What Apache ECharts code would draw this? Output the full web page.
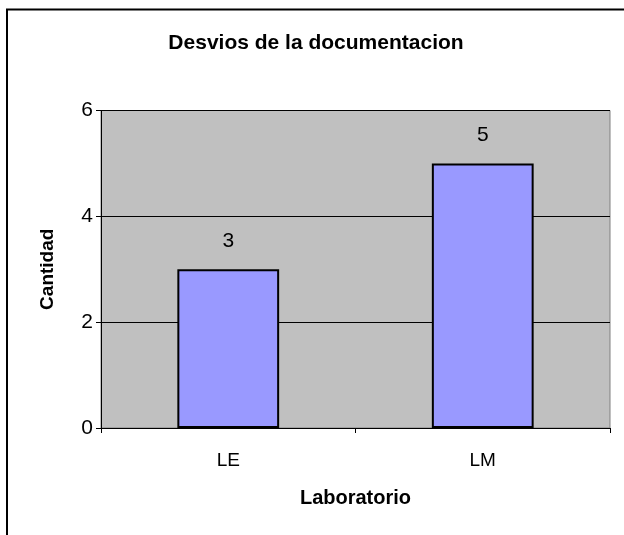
<!DOCTYPE html>
<html>
<head>
<meta charset="utf-8">
<script src="https://cdn.jsdelivr.net/npm/echarts@6/dist/echarts.min.js"></script>
<style>
html,body{margin:0;padding:0;background:#fff;}
#c{width:624px;height:535px;}
</style>
</head>
<body>
<div id="c"></div>
<script>
const titleText = "Desvios de la documentacion";
const categories = ["LE", "LM"];
const values = [3, 5];
const yTicks = [0, 2, 4, 6];
const xName = "Laboratorio";
const yName = "Cantidad";

const chart = echarts.init(document.getElementById('c'), null, {renderer: 'canvas'});
const F = '"Liberation Sans", Arial, sans-serif';
chart.setOption({
  backgroundColor: '#ffffff',
  animation: false,
  title: {
    text: titleText,
    left: 311, top: 28, textAlign: 'center',
    textStyle: {fontFamily: F, fontSize: 21, fontWeight: 'bold', color: '#000'}
  },
  graphic: [{
    type: 'rect', silent: true,
    shape: {x: 7, y: 9.5, width: 700, height: 600},
    style: {fill: 'none', stroke: '#000', lineWidth: 2}
  }],
  grid: {left: 101, top: 110.5, right: 14, bottom: 107, show: true,
    backgroundColor: '#c0c0c0', borderColor: '#808080', borderWidth: 1},
  xAxis: {
    type: 'category', data: categories,
    name: xName, nameLocation: 'middle', nameGap: 60,
    nameTextStyle: {fontFamily: F, fontSize: 20, fontWeight: 'bold', color: '#000'},
    axisLine: {lineStyle: {color: '#000', width: 1}},
    axisTick: {show: true, alignWithLabel: false, length: 5, lineStyle: {color: '#000'}},
    axisLabel: {fontFamily: F, fontSize: 19, color: '#000', margin: 23}
  },
  yAxis: {
    type: 'value', min: yTicks[0], max: yTicks[yTicks.length-1], interval: 2,
    name: yName, nameLocation: 'middle', nameGap: 44, nameRotate: 90,
    nameTextStyle: {fontFamily: F, fontSize: 19, fontWeight: 'bold', color: '#000'},
    axisLine: {show: true, lineStyle: {color: '#000', width: 1}},
    axisTick: {show: true, length: 5, lineStyle: {color: '#000'}},
    axisLabel: {fontFamily: F, fontSize: 21, color: '#000', margin: 8},
    splitLine: {show: true, lineStyle: {color: '#000', width: 1}}
  },
  series: [{
    type: 'bar', data: values, barWidth: '40%',
    itemStyle: {color: '#9999ff', borderColor: '#000', borderWidth: 2},
    label: {show: true, position: 'top', distance: 18, fontFamily: F, fontSize: 21, color: '#000'}
  }]
});
</script>
</body>
</html>
